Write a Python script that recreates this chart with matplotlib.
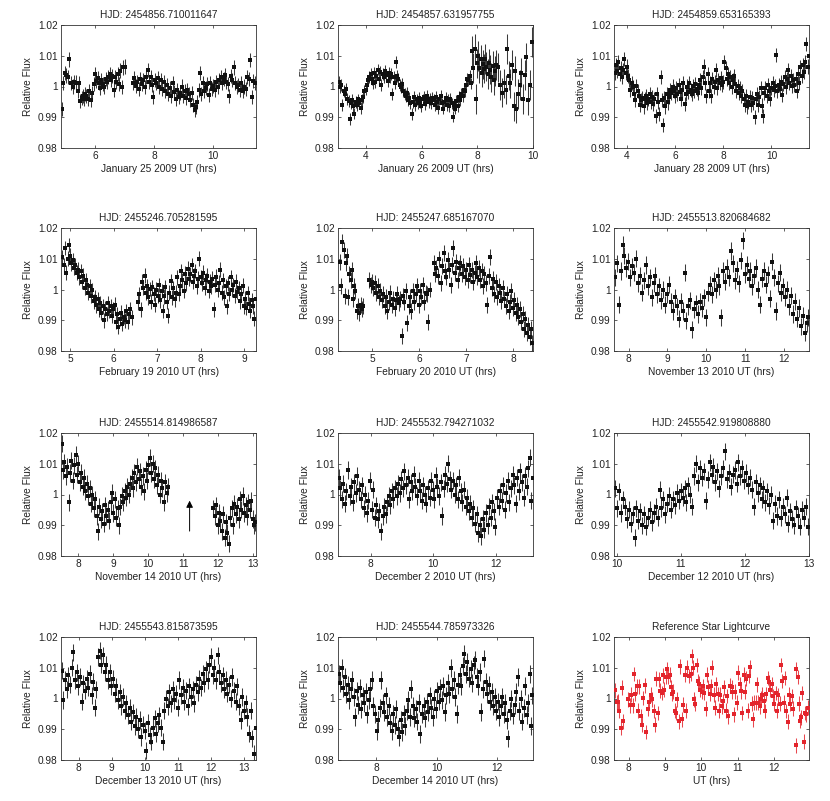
import numpy as np
from matplotlib import pyplot as plt
from matplotlib.ticker import MultipleLocator

plt.rcParams['font.family'] = ['Liberation Sans', 'DejaVu Sans']
plt.rcParams['font.size'] = 7.3

# ---- light curves (UT hours, relative flux) ----
t1 = [4.87, 4.93, 4.98, 5.02, 5.08, 5.12, 5.18, 5.24, 5.29, 5.36,
      5.42, 5.46, 5.50, 5.55, 5.59, 5.63, 5.67, 5.71, 5.75, 5.80,
      5.85, 5.90, 5.95, 6.00, 6.04, 6.09, 6.13, 6.18, 6.22, 6.27,
      6.32, 6.36, 6.41, 6.45, 6.50, 6.55, 6.59, 6.63, 6.68, 6.72,
      6.77, 6.82, 6.86, 6.91, 6.96, 7.00, 7.28, 7.33, 7.38, 7.43,
      7.48, 7.53, 7.58, 7.63, 7.68, 7.73, 7.78, 7.83, 7.88, 7.93,
      7.98, 8.03, 8.08, 8.13, 8.18, 8.23, 8.28, 8.33, 8.38, 8.43,
      8.48, 8.53, 8.58, 8.63, 8.68, 8.73, 8.78, 8.83, 8.88, 8.93,
      8.98, 9.03, 9.08, 9.13, 9.18, 9.23, 9.28, 9.33, 9.37, 9.41,
      9.46, 9.51, 9.55, 9.60, 9.65, 9.70, 9.75, 9.80, 9.85, 9.90,
      9.95, 10.00, 10.05, 10.10, 10.15, 10.20, 10.25, 10.30, 10.35, 10.40,
      10.45, 10.50, 10.55, 10.60, 10.65, 10.70, 10.75, 10.80, 10.85, 10.90,
      10.95, 11.00, 11.05, 11.10, 11.15, 11.20, 11.25, 11.30, 11.35, 11.40]
f1 = [0.9928, 1.0010, 1.0045, 1.0036, 1.0030, 1.0088, 1.0012, 1.0000, 1.0016, 1.0013,
      0.9985, 1.0012, 0.9953, 0.9962, 0.9970, 0.9958, 0.9975, 0.9968, 0.9960, 0.9985,
      0.9955, 0.9978, 1.0008, 1.0040, 1.0018, 1.0028, 1.0010, 0.9995, 1.0020, 1.0008,
      0.9998, 1.0025, 1.0015, 1.0032, 1.0042, 1.0022, 1.0035, 0.9990, 1.0030, 1.0015,
      1.0040, 1.0008, 1.0052, 0.9998, 1.0062, 1.0065, 1.0012, 1.0028, 1.0003, 1.0015,
      0.9992, 1.0025, 1.0008, 1.0020, 0.9998, 1.0030, 1.0055, 1.0015, 1.0032, 1.0005,
      0.9965, 1.0022, 1.0010, 1.0028, 1.0000, 1.0020, 0.9992, 1.0015, 0.9985, 1.0005,
      0.9975, 0.9995, 0.9970, 1.0012, 0.9982, 0.9960, 0.9990, 0.9965, 0.9978, 1.0000,
      0.9968, 0.9985, 0.9962, 0.9990, 0.9975, 0.9955, 0.9978, 0.9940, 0.9925, 0.9932,
      0.9950, 0.9990, 1.0045, 0.9975, 1.0012, 0.9985, 0.9995, 1.0008, 0.9972, 1.0010,
      0.9992, 1.0002, 0.9990, 1.0015, 0.9998, 1.0020, 1.0030, 1.0012, 1.0025, 1.0038,
      1.0015, 1.0008, 0.9970, 1.0035, 1.0022, 1.0062, 1.0010, 0.9998, 1.0005, 0.9990,
      1.0012, 0.9985, 1.0000, 0.9992, 1.0030, 1.0025, 1.0085, 0.9965, 1.0018, 1.0012]

t2 = [3.04, 3.08, 3.12, 3.16, 3.20, 3.25, 3.29, 3.33, 3.38, 3.42,
      3.46, 3.50, 3.55, 3.59, 3.63, 3.68, 3.72, 3.77, 3.81, 3.86,
      3.90, 3.95, 3.99, 4.04, 4.08, 4.12, 4.17, 4.21, 4.25, 4.30,
      4.34, 4.38, 4.43, 4.47, 4.51, 4.56, 4.60, 4.64, 4.69, 4.73,
      4.78, 4.82, 4.86, 4.91, 4.95, 5.00, 5.04, 5.08, 5.13, 5.17,
      5.21, 5.26, 5.30, 5.34, 5.39, 5.43, 5.47, 5.52, 5.56, 5.60,
      5.65, 5.69, 5.73, 5.78, 5.82, 5.86, 5.91, 5.95, 5.99, 6.04,
      6.08, 6.12, 6.17, 6.21, 6.25, 6.30, 6.34, 6.38, 6.43, 6.47,
      6.51, 6.56, 6.60, 6.64, 6.69, 6.73, 6.77, 6.82, 6.86, 6.90,
      6.95, 6.99, 7.03, 7.08, 7.12, 7.16, 7.21, 7.25, 7.29, 7.34,
      7.38, 7.42, 7.47, 7.51, 7.55, 7.60, 7.64, 7.68, 7.73, 7.77,
      7.81, 7.86, 7.90, 7.94, 7.99, 8.03, 8.07, 8.12, 8.16, 8.20,
      8.25, 8.29, 8.33, 8.38, 8.42, 8.46, 8.51, 8.55, 8.60, 8.64,
      8.68, 8.73, 8.80, 8.88, 8.95, 9.02, 9.08, 9.13, 9.18, 9.24,
      9.30, 9.35, 9.40, 9.46, 9.52, 9.58, 9.64, 9.70, 9.76, 9.82,
      9.88, 9.95]
f2 = [1.0015, 0.9998, 1.0005, 0.9940, 0.9985, 0.9975, 0.9992, 0.9960, 0.9952, 0.9895,
      0.9945, 0.9955, 0.9935, 0.9912, 0.9950, 0.9940, 0.9958, 0.9945, 0.9930, 0.9955,
      0.9965, 0.9985, 0.9990, 1.0005, 1.0020, 1.0030, 1.0040, 1.0025, 1.0010, 1.0045,
      1.0015, 1.0035, 1.0055, 1.0025, 1.0048, 1.0005, 1.0040, 1.0032, 1.0050, 1.0038,
      1.0018, 1.0045, 1.0030, 1.0040, 0.9975, 1.0030, 1.0010, 1.0080, 1.0035, 1.0025,
      1.0005, 0.9998, 1.0008, 0.9985, 0.9975, 0.9968, 0.9980, 0.9955, 0.9962, 0.9945,
      0.9910, 0.9950, 0.9965, 0.9940, 0.9958, 0.9945, 0.9962, 0.9948, 0.9935, 0.9958,
      0.9965, 0.9942, 0.9955, 0.9968, 0.9950, 0.9960, 0.9945, 0.9962, 0.9955, 0.9940,
      0.9965, 0.9950, 0.9930, 0.9958, 0.9970, 0.9945, 0.9928, 0.9950, 0.9962, 0.9940,
      0.9955, 0.9935, 0.9960, 0.9945, 0.9902, 0.9940, 0.9928, 0.9952, 0.9935, 0.9965,
      0.9955, 0.9975, 0.9968, 0.9990, 0.9985, 1.0005, 1.0025, 1.0020, 1.0035, 1.0010,
      1.0115, 1.0060, 1.0122, 0.9960, 1.0075, 1.0100, 1.0060, 1.0088, 1.0045, 1.0072,
      1.0058, 1.0090, 1.0065, 1.0040, 1.0075, 1.0055, 1.0030, 1.0068, 1.0020, 1.0050,
      1.0070, 1.0062, 1.0005, 0.9980, 1.0010, 0.9990, 1.0122, 1.0035, 1.0010, 1.0070,
      0.9935, 1.0050, 0.9928, 0.9975, 1.0005, 1.0045, 0.9960, 1.0038, 1.0095, 0.9955,
      1.0005, 1.0145]

t3 = [3.50, 3.55, 3.60, 3.65, 3.70, 3.75, 3.80, 3.85, 3.90, 3.95,
      4.00, 4.05, 4.10, 4.15, 4.20, 4.25, 4.30, 4.35, 4.40, 4.45,
      4.50, 4.55, 4.60, 4.65, 4.70, 4.75, 4.80, 4.85, 4.90, 4.95,
      5.00, 5.05, 5.10, 5.15, 5.20, 5.25, 5.30, 5.35, 5.40, 5.45,
      5.50, 5.55, 5.60, 5.65, 5.70, 5.75, 5.80, 5.85, 5.90, 5.95,
      6.00, 6.05, 6.10, 6.15, 6.20, 6.25, 6.30, 6.35, 6.40, 6.45,
      6.50, 6.55, 6.60, 6.65, 6.70, 6.75, 6.80, 6.85, 6.90, 6.95,
      7.00, 7.05, 7.10, 7.15, 7.20, 7.25, 7.30, 7.35, 7.40, 7.45,
      7.50, 7.55, 7.60, 7.65, 7.70, 7.75, 7.80, 7.85, 7.90, 7.95,
      8.00, 8.05, 8.10, 8.15, 8.20, 8.25, 8.30, 8.35, 8.40, 8.45,
      8.50, 8.55, 8.60, 8.65, 8.70, 8.75, 8.80, 8.85, 8.90, 8.95,
      9.00, 9.05, 9.10, 9.15, 9.20, 9.25, 9.30, 9.35, 9.40, 9.45,
      9.50, 9.55, 9.60, 9.65, 9.70, 9.75, 9.80, 9.85, 9.90, 9.95,
      10.00, 10.05, 10.10, 10.15, 10.20, 10.25, 10.30, 10.35, 10.40, 10.45,
      10.50, 10.55, 10.60, 10.65, 10.70, 10.75, 10.80, 10.85, 10.90, 10.95,
      11.00, 11.05, 11.10, 11.15, 11.20, 11.25, 11.30, 11.35, 11.40, 11.45,
      11.50, 11.54]
f3 = [1.0045, 1.0070, 1.0052, 1.0080, 1.0040, 1.0060, 1.0030, 1.0055, 1.0090, 1.0045,
      1.0065, 1.0035, 1.0020, 0.9990, 1.0010, 0.9998, 0.9975, 0.9955, 1.0003, 0.9985,
      0.9968, 0.9940, 0.9955, 0.9962, 0.9935, 0.9958, 0.9970, 0.9945, 0.9960, 0.9975,
      0.9950, 0.9965, 0.9942, 0.9960, 0.9905, 0.9975, 0.9950, 0.9910, 1.0030, 0.9955,
      0.9875, 0.9962, 0.9935, 0.9975, 0.9948, 0.9965, 0.9990, 0.9978, 1.0000, 0.9985,
      0.9968, 0.9995, 0.9975, 1.0005, 0.9982, 0.9960, 0.9990, 1.0012, 0.9942, 0.9975,
      1.0000, 0.9982, 1.0010, 0.9990, 0.9975, 1.0002, 0.9985, 1.0008, 0.9992, 0.9978,
      1.0005, 1.0020, 0.9995, 1.0030, 1.0065, 1.0012, 0.9968, 1.0040, 0.9985, 1.0010,
      0.9968, 1.0025, 1.0000, 1.0015, 1.0055, 0.9995, 1.0020, 1.0010, 1.0028, 1.0005,
      1.0015, 1.0080, 1.0060, 1.0025, 1.0040, 1.0010, 1.0030, 1.0000, 1.0020, 1.0035,
      1.0008, 0.9985, 1.0002, 0.9978, 0.9995, 0.9970, 0.9985, 0.9960, 0.9940, 0.9968,
      0.9935, 0.9950, 0.9965, 0.9940, 0.9962, 0.9945, 0.9902, 0.9958, 0.9975, 0.9940,
      0.9965, 0.9995, 0.9938, 0.9905, 0.9978, 0.9995, 0.9970, 1.0005, 0.9985, 0.9960,
      0.9995, 1.0010, 0.9990, 1.0002, 1.0102, 0.9985, 1.0005, 0.9992, 1.0015, 0.9972,
      1.0008, 1.0030, 1.0000, 1.0025, 1.0055, 1.0010, 1.0035, 1.0002, 1.0020, 1.0005,
      1.0025, 0.9985, 1.0040, 1.0012, 1.0062, 1.0035, 1.0070, 1.0048, 1.0080, 1.0138,
      1.0065, 1.0100]

t4 = [4.81, 4.85, 4.88, 4.91, 4.94, 4.97, 5.00, 5.03, 5.06, 5.09,
      5.12, 5.15, 5.18, 5.21, 5.24, 5.27, 5.30, 5.33, 5.36, 5.39,
      5.42, 5.45, 5.48, 5.51, 5.54, 5.57, 5.60, 5.63, 5.66, 5.69,
      5.72, 5.75, 5.78, 5.81, 5.84, 5.87, 5.90, 5.93, 5.96, 5.99,
      6.02, 6.05, 6.08, 6.11, 6.14, 6.17, 6.20, 6.23, 6.26, 6.29,
      6.32, 6.35, 6.38, 6.41, 6.56, 6.59, 6.62, 6.65, 6.68, 6.71,
      6.74, 6.77, 6.80, 6.83, 6.86, 6.89, 6.92, 6.95, 6.98, 7.01,
      7.04, 7.07, 7.10, 7.13, 7.16, 7.19, 7.22, 7.25, 7.28, 7.31,
      7.34, 7.37, 7.40, 7.43, 7.46, 7.49, 7.52, 7.55, 7.58, 7.61,
      7.64, 7.67, 7.70, 7.73, 7.76, 7.79, 7.82, 7.85, 7.88, 7.91,
      7.94, 7.97, 8.00, 8.03, 8.06, 8.09, 8.12, 8.15, 8.18, 8.21,
      8.24, 8.27, 8.30, 8.33, 8.36, 8.39, 8.42, 8.45, 8.48, 8.51,
      8.54, 8.57, 8.60, 8.63, 8.66, 8.69, 8.72, 8.75, 8.78, 8.81,
      8.84, 8.87, 8.90, 8.93, 8.96, 8.99, 9.02, 9.05, 9.08, 9.11,
      9.14, 9.17, 9.20, 9.23, 9.26]
f4 = [1.0105, 1.0080, 1.0135, 1.0055, 1.0100, 1.0145, 1.0110, 1.0085, 1.0095, 1.0070,
      1.0080, 1.0055, 1.0065, 1.0040, 1.0060, 1.0025, 1.0045, 1.0005, 1.0030, 1.0015,
      0.9990, 1.0010, 0.9980, 0.9998, 0.9962, 0.9975, 0.9948, 0.9968, 0.9935, 0.9955,
      0.9925, 0.9945, 0.9900, 0.9938, 0.9920, 0.9955, 0.9930, 0.9945, 0.9915, 0.9935,
      0.9950, 0.9895, 0.9920, 0.9878, 0.9905, 0.9925, 0.9888, 0.9912, 0.9900, 0.9930,
      0.9895, 0.9920, 0.9935, 0.9910, 0.9958, 0.9985, 0.9935, 1.0025, 1.0005, 1.0045,
      0.9990, 1.0010, 0.9975, 1.0002, 0.9960, 1.0008, 0.9985, 0.9950, 1.0000, 0.9980,
      1.0015, 0.9965, 0.9995, 0.9930, 0.9978, 1.0008, 0.9960, 0.9915, 0.9990, 1.0028,
      0.9975, 1.0005, 0.9968, 0.9990, 1.0040, 0.9985, 1.0010, 1.0060, 1.0030, 0.9995,
      1.0052, 1.0020, 1.0068, 1.0035, 1.0050, 1.0080, 1.0025, 1.0045, 1.0060, 1.0010,
      1.0035, 1.0100, 1.0040, 1.0020, 1.0055, 1.0005, 1.0030, 1.0045, 0.9995, 1.0025,
      1.0010, 1.0035, 0.9935, 1.0015, 1.0042, 1.0000, 1.0022, 1.0065, 0.9990, 1.0030,
      0.9975, 1.0010, 0.9945, 1.0020, 0.9985, 1.0040, 1.0000, 1.0015, 0.9980, 1.0025,
      0.9992, 1.0005, 0.9962, 0.9985, 1.0012, 0.9945, 0.9970, 0.9940, 0.9988, 0.9952,
      0.9930, 0.9965, 0.9945, 0.9905, 0.9970]

t5 = [4.32, 4.35, 4.37, 4.40, 4.42, 4.45, 4.47, 4.50, 4.52, 4.55,
      4.57, 4.60, 4.62, 4.65, 4.68, 4.70, 4.73, 4.76, 4.79, 4.81,
      4.94, 4.97, 5.00, 5.03, 5.06, 5.09, 5.12, 5.15, 5.18, 5.21,
      5.24, 5.27, 5.30, 5.33, 5.36, 5.39, 5.42, 5.45, 5.48, 5.51,
      5.54, 5.57, 5.60, 5.63, 5.66, 5.69, 5.72, 5.75, 5.78, 5.81,
      5.84, 5.87, 5.90, 5.93, 5.96, 5.99, 6.02, 6.05, 6.08, 6.11,
      6.14, 6.17, 6.20, 6.23, 6.31, 6.34, 6.37, 6.40, 6.43, 6.46,
      6.49, 6.52, 6.55, 6.58, 6.61, 6.64, 6.67, 6.70, 6.73, 6.76,
      6.79, 6.82, 6.85, 6.88, 6.91, 6.94, 6.97, 7.00, 7.03, 7.06,
      7.09, 7.12, 7.15, 7.18, 7.21, 7.24, 7.27, 7.30, 7.33, 7.36,
      7.39, 7.42, 7.45, 7.48, 7.51, 7.54, 7.57, 7.60, 7.63, 7.66,
      7.69, 7.72, 7.75, 7.78, 7.81, 7.84, 7.87, 7.90, 7.93, 7.96,
      7.99, 8.02, 8.05, 8.08, 8.11, 8.14, 8.17, 8.20, 8.23, 8.26,
      8.29, 8.32, 8.35, 8.38, 8.40]
f5 = [1.0090, 1.0010, 1.0155, 1.0130, 0.9980, 1.0085, 1.0110, 0.9975, 1.0050, 1.0030,
      1.0065, 0.9970, 1.0010, 0.9995, 0.9930, 0.9945, 0.9925, 0.9950, 0.9935, 0.9945,
      1.0030, 1.0015, 1.0025, 1.0005, 1.0020, 0.9990, 1.0010, 0.9975, 0.9995, 0.9965,
      0.9985, 0.9945, 0.9975, 0.9930, 0.9960, 0.9990, 0.9950, 0.9970, 0.9940, 0.9965,
      0.9985, 0.9955, 0.9970, 0.9850, 0.9980, 0.9960, 0.9995, 0.9890, 0.9945, 0.9975,
      0.9930, 0.9995, 0.9960, 0.9985, 1.0010, 0.9950, 0.9995, 0.9975, 1.0015, 0.9960,
      0.9990, 0.9985, 0.9895, 1.0000, 1.0085, 1.0050, 1.0070, 1.0045, 1.0100, 1.0020,
      1.0075, 1.0120, 1.0060, 1.0040, 1.0095, 1.0065, 1.0015, 1.0080, 1.0135, 1.0055,
      1.0090, 1.0030, 1.0070, 1.0085, 1.0050, 1.0075, 1.0040, 1.0062, 1.0030, 1.0080,
      1.0048, 1.0065, 1.0025, 1.0055, 1.0085, 1.0040, 1.0070, 1.0030, 1.0060, 1.0010,
      1.0050, 1.0020, 0.9950, 1.0045, 1.0105, 1.0005, 1.0035, 0.9985, 1.0025, 0.9975,
      1.0010, 0.9990, 0.9962, 1.0005, 0.9970, 0.9945, 0.9985, 0.9930, 0.9960, 0.9995,
      0.9940, 0.9965, 0.9925, 0.9950, 0.9910, 0.9935, 0.9895, 0.9920, 0.9870, 0.9905,
      0.9860, 0.9885, 0.9845, 0.9870, 0.9825]

t6 = [7.64, 7.69, 7.74, 7.79, 7.84, 7.89, 7.94, 7.99, 8.04, 8.09,
      8.14, 8.19, 8.24, 8.29, 8.34, 8.39, 8.44, 8.49, 8.54, 8.59,
      8.64, 8.69, 8.74, 8.79, 8.84, 8.89, 8.94, 8.99, 9.04, 9.09,
      9.14, 9.19, 9.24, 9.29, 9.34, 9.39, 9.44, 9.49, 9.54, 9.59,
      9.64, 9.69, 9.74, 9.79, 9.84, 9.89, 9.94, 9.99, 10.04, 10.09,
      10.14, 10.19, 10.24, 10.29, 10.34, 10.39, 10.44, 10.49, 10.54, 10.59,
      10.64, 10.69, 10.74, 10.79, 10.84, 10.89, 10.94, 10.99, 11.04, 11.09,
      11.14, 11.19, 11.24, 11.29, 11.34, 11.39, 11.44, 11.49, 11.54, 11.59,
      11.64, 11.69, 11.74, 11.79, 11.84, 11.89, 11.94, 11.99, 12.04, 12.09,
      12.14, 12.19, 12.24, 12.29, 12.34, 12.39, 12.44, 12.49, 12.54, 12.59,
      12.63]
f6 = [1.0040, 1.0085, 0.9950, 1.0060, 1.0145, 1.0110, 1.0070, 1.0090, 1.0040, 1.0075,
      1.0055, 1.0100, 1.0020, 1.0045, 0.9990, 1.0030, 1.0080, 1.0010, 1.0040, 0.9975,
      1.0020, 1.0045, 0.9985, 1.0010, 0.9965, 1.0000, 0.9950, 0.9985, 1.0015, 0.9960,
      0.9930, 0.9975, 0.9945, 0.9905, 0.9960, 0.9930, 1.0055, 0.9900, 0.9945, 0.9965,
      0.9870, 0.9935, 0.9955, 0.9920, 0.9960, 0.9940, 0.9975, 0.9910, 0.9990, 1.0015,
      0.9985, 1.0030, 1.0000, 1.0045, 1.0010, 0.9910, 1.0060, 1.0025, 1.0070, 1.0040,
      1.0125, 1.0085, 1.0030, 1.0065, 1.0020, 1.0095, 1.0160, 1.0050, 1.0080, 1.0035,
      1.0060, 1.0010, 1.0045, 1.0070, 1.0000, 0.9950, 1.0035, 1.0060, 1.0015, 1.0050,
      0.9970, 1.0090, 1.0040, 0.9930, 1.0020, 1.0055, 0.9990, 1.0010, 0.9975, 1.0000,
      0.9945, 0.9980, 0.9920, 0.9960, 0.9905, 0.9940, 0.9880, 0.9915, 0.9860, 0.9890,
      0.9910]

t7 = [7.52, 7.56, 7.60, 7.64, 7.68, 7.72, 7.76, 7.80, 7.84, 7.88,
      7.92, 7.96, 8.00, 8.04, 8.08, 8.12, 8.16, 8.20, 8.24, 8.28,
      8.32, 8.36, 8.40, 8.44, 8.48, 8.52, 8.56, 8.60, 8.64, 8.68,
      8.72, 8.76, 8.80, 8.84, 8.88, 8.92, 8.96, 9.00, 9.04, 9.08,
      9.12, 9.16, 9.20, 9.24, 9.28, 9.32, 9.36, 9.40, 9.44, 9.48,
      9.52, 9.56, 9.60, 9.64, 9.68, 9.72, 9.76, 9.80, 9.84, 9.88,
      9.92, 9.96, 10.00, 10.04, 10.08, 10.12, 10.16, 10.20, 10.24, 10.28,
      10.32, 10.36, 10.40, 10.44, 10.48, 10.52, 10.56,
      11.86, 11.90, 11.94, 11.98, 12.02, 12.06, 12.10, 12.14, 12.18, 12.22,
      12.26, 12.30, 12.34, 12.38, 12.42, 12.46, 12.50, 12.54, 12.58, 12.62,
      12.66, 12.70, 12.74, 12.78, 12.82, 12.86, 12.90, 12.94, 12.98, 13.02,
      13.06]
f7 = [1.0165, 1.0080, 1.0105, 1.0060, 1.0090, 0.9975, 1.0070, 1.0110, 1.0045, 1.0095,
      1.0130, 1.0065, 1.0100, 1.0040, 1.0070, 1.0025, 1.0055, 1.0010, 1.0035, 0.9995,
      1.0020, 0.9970, 1.0000, 0.9955, 0.9985, 0.9930, 0.9880, 0.9960, 0.9920, 0.9945,
      0.9905, 0.9965, 0.9930, 0.9950, 0.9915, 0.9975, 1.0005, 0.9940, 0.9985, 0.9925,
      0.9955, 0.9900, 0.9960, 0.9995, 0.9975, 1.0010, 0.9990, 1.0025, 1.0000, 1.0035,
      1.0055, 1.0020, 1.0070, 1.0040, 1.0090, 1.0050, 1.0075, 1.0025, 1.0060, 1.0010,
      1.0080, 1.0045, 1.0095, 1.0120, 1.0070, 1.0100, 1.0050, 1.0085, 1.0030, 1.0065,
      1.0000, 1.0045, 1.0020, 0.9975, 1.0040, 1.0005, 1.0025,
      0.9955, 0.9930, 0.9965, 0.9900, 0.9940, 0.9915, 0.9880, 0.9935, 0.9860, 0.9910,
      0.9875, 0.9840, 0.9925, 0.9955, 0.9900, 0.9970, 0.9935, 0.9960, 0.9920, 0.9985,
      0.9950, 0.9995, 0.9940, 0.9965, 0.9930, 0.9975, 0.9950, 0.9980, 0.9920, 0.9900,
      0.9910]

t8 = [6.98, 7.03, 7.08, 7.13, 7.18, 7.23, 7.28, 7.33, 7.38, 7.43,
      7.48, 7.53, 7.58, 7.63, 7.68, 7.73, 7.78, 7.83, 7.88, 7.93,
      7.98, 8.03, 8.08, 8.13, 8.18, 8.23, 8.28, 8.33, 8.38, 8.43,
      8.48, 8.53, 8.58, 8.63, 8.68, 8.73, 8.78, 8.83, 8.88, 8.93,
      8.98, 9.03, 9.08, 9.13, 9.18, 9.23, 9.28, 9.33, 9.38, 9.43,
      9.48, 9.53, 9.58, 9.63, 9.68, 9.73, 9.78, 9.83, 9.88, 9.93,
      9.98, 10.03, 10.08, 10.13, 10.18, 10.23, 10.28, 10.33, 10.38, 10.43,
      10.48, 10.53, 10.58, 10.63, 10.68, 10.73, 10.78, 10.83, 10.88, 10.93,
      10.98, 11.03, 11.08, 11.13, 11.18, 11.23, 11.28, 11.33, 11.38, 11.43,
      11.48, 11.53, 11.58, 11.63, 11.68, 11.73, 11.78, 11.83, 11.88, 11.93,
      11.98, 12.03, 12.08, 12.13, 12.18, 12.23, 12.28, 12.33, 12.38, 12.43,
      12.48, 12.53, 12.58, 12.63, 12.68, 12.73, 12.78, 12.83, 12.88, 12.93,
      12.98, 13.03, 13.08, 13.13, 13.17]
f8 = [1.0055, 1.0020, 0.9985, 1.0035, 0.9970, 1.0010, 1.0080, 0.9995, 1.0025, 0.9975,
      1.0040, 1.0005, 1.0060, 1.0015, 0.9985, 1.0030, 0.9955, 1.0000, 0.9940, 0.9980,
      1.0045, 0.9950, 1.0015, 0.9925, 0.9965, 0.9920, 0.9945, 0.9880, 0.9930, 0.9960,
      0.9935, 0.9975, 0.9995, 0.9965, 1.0010, 0.9985, 1.0020, 0.9995, 1.0035, 1.0005,
      1.0050, 1.0020, 1.0075, 1.0030, 1.0055, 0.9985, 1.0040, 1.0010, 1.0065, 1.0025,
      0.9995, 1.0045, 1.0010, 0.9980, 1.0030, 1.0000, 0.9970, 1.0020, 0.9990, 1.0045,
      1.0015, 0.9985, 1.0060, 1.0025, 0.9995, 1.0040, 0.9930, 1.0020, 1.0065, 1.0035,
      1.0100, 1.0050, 1.0015, 1.0045, 1.0000, 1.0030, 0.9985, 1.0055, 1.0010, 0.9975,
      1.0015, 0.9960, 0.9990, 0.9945, 0.9970, 0.9925, 0.9955, 0.9905, 0.9935, 0.9875,
      0.9900, 0.9865, 0.9920, 0.9885, 0.9940, 0.9900, 0.9960, 0.9925, 0.9975, 0.9945,
      0.9895, 0.9990, 0.9960, 1.0010, 0.9980, 1.0030, 0.9950, 1.0005, 1.0045, 0.9975,
      1.0020, 1.0065, 1.0030, 0.9970, 1.0055, 1.0010, 1.0075, 1.0040, 0.9990, 1.0060,
      1.0025, 1.0085, 1.0120, 0.9980, 1.0055]

t9 = [9.98, 10.01, 10.04, 10.07, 10.10, 10.13, 10.16, 10.19, 10.22, 10.25,
      10.28, 10.31, 10.34, 10.37, 10.40, 10.43, 10.46, 10.49, 10.52, 10.55,
      10.58, 10.61, 10.64, 10.67, 10.70, 10.73, 10.76, 10.79, 10.82, 10.85,
      10.88, 10.91, 10.94, 10.97, 11.00, 11.03, 11.06, 11.09, 11.12, 11.15,
      11.18, 11.21, 11.24, 11.27, 11.30, 11.33, 11.36, 11.39, 11.42, 11.45,
      11.48, 11.51, 11.54, 11.57, 11.60, 11.63, 11.66, 11.69, 11.72, 11.75,
      11.78, 11.81, 11.84, 11.87, 11.90, 11.93, 11.96, 11.99, 12.02, 12.05,
      12.08, 12.11, 12.14, 12.17, 12.20, 12.23, 12.26, 12.29, 12.32, 12.35,
      12.38, 12.41, 12.44, 12.47, 12.50, 12.53, 12.56, 12.59, 12.62, 12.65,
      12.68, 12.71, 12.74, 12.77, 12.80, 12.83, 12.86, 12.89, 12.92, 12.95,
      12.98]
f9 = [1.0020, 0.9955, 1.0010, 0.9940, 0.9985, 0.9960, 0.9920, 0.9950, 0.9905, 0.9935,
      0.9860, 0.9955, 0.9915, 0.9945, 0.9900, 0.9935, 0.9895, 0.9925, 0.9950, 0.9910,
      0.9940, 0.9960, 0.9925, 1.0015, 0.9955, 0.9985, 0.9935, 0.9970, 0.9995, 0.9950,
      0.9985, 0.9965, 1.0005, 0.9980, 1.0010, 0.9990, 1.0020, 0.9975, 1.0030, 1.0000,
      0.9960, 1.0060, 1.0100, 1.0040, 1.0085, 1.0055, 1.0075, 0.9980, 1.0050, 1.0105,
      1.0065, 1.0090, 1.0040, 1.0075, 1.0020, 1.0060, 1.0085, 1.0140, 1.0050, 1.0070,
      1.0025, 1.0065, 1.0080, 1.0035, 1.0105, 1.0060, 1.0085, 1.0045, 1.0070, 1.0030,
      1.0055, 1.0015, 0.9960, 1.0040, 1.0005, 1.0030, 0.9985, 1.0020, 0.9975, 1.0010,
      0.9965, 1.0000, 0.9915, 0.9970, 0.9930, 0.9985, 0.9925, 0.9960, 0.9935, 0.9990,
      0.9905, 0.9945, 0.9920, 0.9900, 0.9955, 0.9930, 0.9895, 0.9950, 0.9925, 0.9960,
      0.9895]

t10 = [7.49, 7.54, 7.59, 7.64, 7.69, 7.74, 7.79, 7.84, 7.89, 7.94,
       7.99, 8.04, 8.09, 8.14, 8.19, 8.24, 8.29, 8.34, 8.39, 8.44,
       8.49, 8.54, 8.59, 8.64, 8.69, 8.74, 8.79, 8.84, 8.89, 8.94,
       8.99, 9.04, 9.09, 9.14, 9.19, 9.24, 9.29, 9.34, 9.39, 9.44,
       9.49, 9.54, 9.59, 9.64, 9.69, 9.74, 9.79, 9.84, 9.89, 9.94,
       9.99, 10.04, 10.09, 10.14, 10.19, 10.24, 10.29, 10.34, 10.39, 10.44,
       10.49, 10.54, 10.59, 10.64, 10.69, 10.74, 10.79, 10.84, 10.89, 10.94,
       10.99, 11.04, 11.09, 11.14, 11.19, 11.24, 11.29, 11.34, 11.39, 11.44,
       11.49, 11.54, 11.59, 11.64, 11.69, 11.74, 11.79, 11.84, 11.89, 11.94,
       11.99, 12.04, 12.09, 12.14, 12.19, 12.24, 12.29, 12.34, 12.39, 12.44,
       12.49, 12.54, 12.59, 12.64, 12.69, 12.74, 12.79, 12.84, 12.89, 12.94,
       12.99, 13.04, 13.09, 13.14, 13.19, 13.24, 13.29, 13.34]
f10 = [1.0090, 0.9995, 1.0060, 1.0030, 1.0075, 1.0045, 1.0100, 1.0150, 1.0060, 1.0085,
       1.0040, 1.0070, 0.9990, 1.0050, 1.0025, 1.0065, 1.0035, 1.0080, 1.0010, 1.0055,
       0.9970, 1.0030, 1.0135, 1.0155, 1.0110, 1.0140, 1.0085, 1.0110, 1.0060, 1.0085,
       1.0040, 1.0065, 1.0015, 1.0040, 0.9995, 1.0020, 0.9975, 1.0005, 0.9960, 0.9985,
       0.9945, 0.9970, 0.9925, 0.9955, 0.9910, 0.9940, 0.9900, 0.9930, 0.9875, 0.9915,
       0.9895, 0.9830, 0.9920, 0.9880, 0.9860, 0.9905, 0.9935, 0.9885, 0.9920, 0.9945,
       0.9905, 0.9860, 0.9960, 1.0000, 0.9975, 1.0020, 0.9985, 1.0030, 0.9995, 1.0015,
       0.9970, 1.0060, 1.0010, 1.0035, 0.9990, 1.0025, 0.9975, 1.0040, 1.0005, 1.0030,
       0.9985, 1.0045, 1.0020, 1.0065, 1.0035, 1.0080, 1.0050, 1.0095, 1.0060, 1.0110,
       1.0135, 1.0075, 1.0100, 1.0060, 1.0140, 1.0085, 1.0050, 1.0075, 1.0030, 1.0060,
       1.0015, 1.0045, 1.0000, 1.0070, 1.0025, 0.9990, 1.0040, 0.9975, 0.9930, 1.0005,
       0.9960, 0.9985, 0.9940, 0.9885, 0.9960, 0.9870, 0.9820, 0.9905]

t11 = [6.77, 6.82, 6.87, 6.92, 6.97, 7.02, 7.07, 7.12, 7.17, 7.22,
       7.27, 7.32, 7.37, 7.42, 7.47, 7.52, 7.57, 7.62, 7.67, 7.72,
       7.77, 7.82, 7.87, 7.92, 7.97, 8.02, 8.07, 8.12, 8.17, 8.22,
       8.27, 8.32, 8.37, 8.42, 8.47, 8.52, 8.57, 8.62, 8.67, 8.72,
       8.77, 8.82, 8.87, 8.92, 8.97, 9.02, 9.07, 9.12, 9.17, 9.22,
       9.27, 9.32, 9.37, 9.42, 9.47, 9.52, 9.57, 9.62, 9.67, 9.72,
       9.77, 9.82, 9.87, 9.92, 9.97, 10.02, 10.07, 10.12, 10.17, 10.22,
       10.27, 10.32, 10.37, 10.42, 10.47, 10.52, 10.57, 10.62, 10.67, 10.72,
       10.77, 10.82, 10.87, 10.92, 10.97, 11.02, 11.07, 11.12, 11.17, 11.22,
       11.27, 11.32, 11.37, 11.42, 11.47, 11.52, 11.57, 11.62, 11.67, 11.72,
       11.77, 11.82, 11.87, 11.92, 11.97, 12.02, 12.07, 12.12, 12.17, 12.22,
       12.27, 12.32, 12.37, 12.42, 12.47, 12.52, 12.57, 12.62, 12.67, 12.72,
       12.77, 12.82, 12.87, 12.92, 12.97, 13.02, 13.07, 13.12, 13.16]
f11 = [1.0080, 1.0050, 1.0100, 1.0035, 1.0070, 1.0015, 1.0045, 0.9995, 1.0030, 1.0060,
       1.0005, 0.9940, 1.0025, 0.9980, 1.0035, 0.9965, 1.0010, 0.9985, 1.0020, 0.9950,
       0.9995, 1.0030, 1.0060, 0.9975, 0.9950, 0.9895, 0.9930, 0.9970, 1.0060, 0.9985,
       0.9955, 1.0010, 0.9940, 0.9975, 0.9920, 0.9895, 0.9950, 0.9915, 0.9965, 0.9900,
       0.9875, 0.9930, 0.9890, 0.9950, 0.9910, 0.9960, 0.9995, 0.9940, 1.0030, 0.9975,
       0.9935, 0.9965, 0.9925, 0.9985, 0.9885, 0.9950, 0.9975, 0.9935, 0.9990, 0.9955,
       1.0010, 0.9970, 0.9940, 1.0000, 0.9965, 1.0025, 0.9990, 1.0035, 0.9995, 1.0040,
       0.9955, 1.0010, 1.0050, 1.0015, 1.0100, 1.0030, 1.0060, 1.0005, 0.9950, 1.0045,
       1.0075, 1.0040, 1.0105, 1.0145, 1.0080, 1.0120, 1.0065, 1.0095, 1.0050, 1.0110,
       1.0125, 1.0070, 1.0040, 1.0085, 0.9955, 1.0030, 1.0130, 1.0055, 1.0015, 1.0045,
       0.9990, 1.0020, 0.9975, 1.0005, 0.9960, 0.9990, 0.9940, 0.9975, 1.0005, 0.9950,
       0.9985, 0.9930, 0.9870, 0.9960, 1.0000, 0.9945, 0.9980, 1.0020, 1.0070, 0.9960,
       1.0000, 0.9925, 0.9970, 1.0040, 0.9945, 0.9985, 1.0080, 0.9910, 1.0010]

# reference star
t12 = [7.63, 7.69, 7.72, 7.75, 7.78, 7.82, 7.84, 7.98, 8.03, 8.07,
       8.12, 8.16, 8.19, 8.23, 8.26, 8.30, 8.33, 8.37, 8.41, 8.44,
       8.49, 8.53, 8.56, 8.61, 8.64, 8.69, 8.72, 8.76, 8.80, 8.83,
       8.87, 8.91, 8.94, 8.98, 9.02, 9.06, 9.08, 9.13, 9.16, 9.19,
       9.23, 9.27, 9.30, 9.34, 9.39, 9.42, 9.47, 9.51, 9.55, 9.59,
       9.62, 9.66, 9.71, 9.74, 9.78, 9.81, 9.84, 9.87, 9.91, 9.95,
       9.97, 10.01, 10.05, 10.08, 10.13, 10.16, 10.19, 10.23, 10.27, 10.30,
       10.34, 10.38, 10.41, 10.45, 10.49, 10.52, 10.56, 10.60, 10.63, 10.67,
       10.71, 10.74, 10.78, 10.83, 10.85, 10.89, 10.93, 10.97, 11.01, 11.05,
       11.08, 11.12, 11.16, 11.19, 11.24, 11.28, 11.31, 11.35, 11.39, 11.42,
       11.46, 11.50, 11.53, 11.57, 11.61, 11.64, 11.68, 11.72, 11.75, 11.79,
       11.83, 11.86, 11.90, 11.94, 11.97, 12.01, 12.05, 12.08, 12.12, 12.16,
       12.19, 12.23, 12.27, 12.30, 12.34, 12.38, 12.41, 12.45, 12.49, 12.52,
       12.59, 12.61, 12.65, 12.68, 12.71, 12.73, 12.77, 12.81, 12.84, 12.89,
       12.92]
f12 = [1.0027, 0.9989, 0.9990, 0.9960, 0.9904, 1.0035, 0.9926, 0.9997, 0.9978, 1.0013,
       0.9978, 1.0080, 1.0015, 1.0040, 0.9960, 1.0040, 0.9942, 0.9915, 1.0002, 1.0043,
       0.9891, 0.9967, 0.9988, 1.0013, 0.9997, 0.9959, 0.9915, 1.0065, 0.9953, 1.0062,
       1.0026, 1.0018, 1.0075, 1.0029, 1.0070, 1.0095, 1.0070, 1.0078, 1.0037, 1.0015,
       1.0022, 0.9960, 0.9953, 0.9997, 0.9926, 1.0105, 0.9932, 0.9980, 1.0078, 0.9960,
       1.0100, 1.0073, 1.0080, 1.0138, 1.0100, 0.9997, 0.9983, 1.0109, 1.0057, 1.0048,
       1.0029, 1.0022, 1.0040, 1.0018, 0.9967, 1.0078, 1.0037, 1.0015, 1.0040, 1.0100,
       1.0013, 0.9970, 1.0046, 1.0015, 0.9960, 1.0013, 0.9975, 0.9991, 1.0037, 0.9960,
       1.0008, 0.9942, 1.0042, 1.0022, 1.0037, 0.9948, 1.0022, 0.9986, 1.0084, 1.0046,
       1.0024, 0.9953, 1.0078, 1.0022, 1.0065, 0.9960, 1.0073, 1.0102, 0.9983, 0.9932,
       0.9986, 0.9986, 1.0046, 0.9986, 0.9975, 1.0000, 1.0013, 0.9991, 0.9959, 1.0015,
       1.0067, 1.0054, 1.0029, 1.0046, 1.0008, 0.9983, 1.0018, 0.9960, 1.0011, 0.9983,
       1.0109, 1.0057, 0.9986, 1.0067, 0.9959, 0.9924, 1.0013, 0.9983, 1.0008, 0.9967,
       0.9848, 1.0095, 1.0070, 0.9983, 0.9928, 0.9939, 1.0018, 0.9859, 0.9953, 0.9948,
       0.9970]

# typical 1-sigma error of each light curve (panel 2 gets noisier after ~7.8 h)
flux_err = [0.0023, 0.0019, 0.0023, 0.0024, 0.0026, 0.0028,
            0.0028, 0.0028, 0.0028, 0.0028, 0.0029, 0.0024]
err2_late = 0.0048
err2_split = 7.79

titles = ['HJD: 2454856.710011647', 'HJD: 2454857.631957755', 'HJD: 2454859.653165393',
          'HJD: 2455246.705281595', 'HJD: 2455247.685167070', 'HJD: 2455513.820684682',
          'HJD: 2455514.814986587', 'HJD: 2455532.794271032', 'HJD: 2455542.919808880',
          'HJD: 2455543.815873595', 'HJD: 2455544.785973326', 'Reference Star Lightcurve']
xlabels = ['January 25 2009 UT (hrs)', 'January 26 2009 UT (hrs)', 'January 28 2009 UT (hrs)',
           'February 19 2010 UT (hrs)', 'February 20 2010 UT (hrs)', 'November 13 2010 UT (hrs)',
           'November 14 2010 UT (hrs)', 'December 2 2010 UT (hrs)', 'December 12 2010 UT (hrs)',
           'December 13 2010 UT (hrs)', 'December 14 2010 UT (hrs)', 'UT (hrs)']
xlims = [(4.85, 11.45), (3.0, 10.0), (3.47, 11.56), (4.79, 9.27), (4.28, 8.42), (7.62, 12.65),
         (7.50, 13.08), (6.96, 13.18), (9.96, 13.0), (7.47, 13.35), (6.75, 13.18), (7.60, 12.96)]
xsteps = [2, 2, 2, 1, 1, 1, 1, 2, 1, 1, 2, 1]
yticks = [0.98, 0.99, 1.0, 1.01, 1.02]
ytick_labels = ['0.98', '0.99', '1', '1.01', '1.02']

# gap marker in the Nov 14 light curve
arrow_x = 11.18
arrow_y = (0.9881, 0.9980)

times = [t1, t2, t3, t4, t5, t6, t7, t8, t9, t10, t11, t12]
fluxes = [f1, f2, f3, f4, f5, f6, f7, f8, f9, f10, f11, f12]

fig = plt.figure(figsize=(8.3, 8.01), dpi=100)
W, H = 830.0, 801.0
col_left = [61, 338, 614]
row_top = [25, 228, 433, 637]
ax_w, ax_h = 195, 123

for i in range(12):
    r, c = divmod(i, 3)
    ax = fig.add_axes([col_left[c] / W, 1 - (row_top[r] + ax_h) / H, ax_w / W, ax_h / H])
    t = np.array(times[i])
    f = np.array(fluxes[i])
    if i == 1:
        e = np.where(t < err2_split, flux_err[i], err2_late)
    else:
        e = np.full(len(t), flux_err[i])

    if i == 11:
        mcol, ecol, ccol = '#e3242c', '#e9474e', '#f09a9e'
    else:
        mcol, ecol, ccol = '#111111', '#3a3a3a', '#7a7a7a'

    line, caps, bars = ax.errorbar(t, f, yerr=e, fmt='s', ms=2.8, mew=0, color=mcol,
                                   ecolor=ecol, elinewidth=0.75, capsize=3.2, capthick=0.8)
    for cl in caps:
        cl.set_color(ccol)
    line.set_zorder(3)

    ax.set_xlim(*xlims[i])
    ax.set_ylim(0.98, 1.02)
    ax.xaxis.set_major_locator(MultipleLocator(xsteps[i]))
    ax.set_yticks(yticks)
    ax.set_yticklabels(ytick_labels)
    ax.tick_params(direction='in', length=2.5, width=0.5, top=True, right=True,
                   labelsize=7.3, pad=2.5, colors='#222222', labelcolor='#222222')
    for sp in ax.spines.values():
        sp.set_linewidth(0.6)
        sp.set_color('#333333')
    ax.set_title(titles[i], fontsize=7.3, pad=5, color='#222222')
    ax.set_xlabel(xlabels[i], fontsize=7.3, labelpad=1.5, color='#222222')
    ax.set_ylabel('Relative Flux', fontsize=7.3, labelpad=3.5, color='#222222')

    if i == 6:
        ax.annotate('', xy=(arrow_x, arrow_y[1]), xytext=(arrow_x, arrow_y[0]),
                    arrowprops=dict(arrowstyle='-|>', color='k', lw=0.7,
                                    mutation_scale=10, shrinkA=0, shrinkB=0))

fig.savefig('out.png', dpi=100)
